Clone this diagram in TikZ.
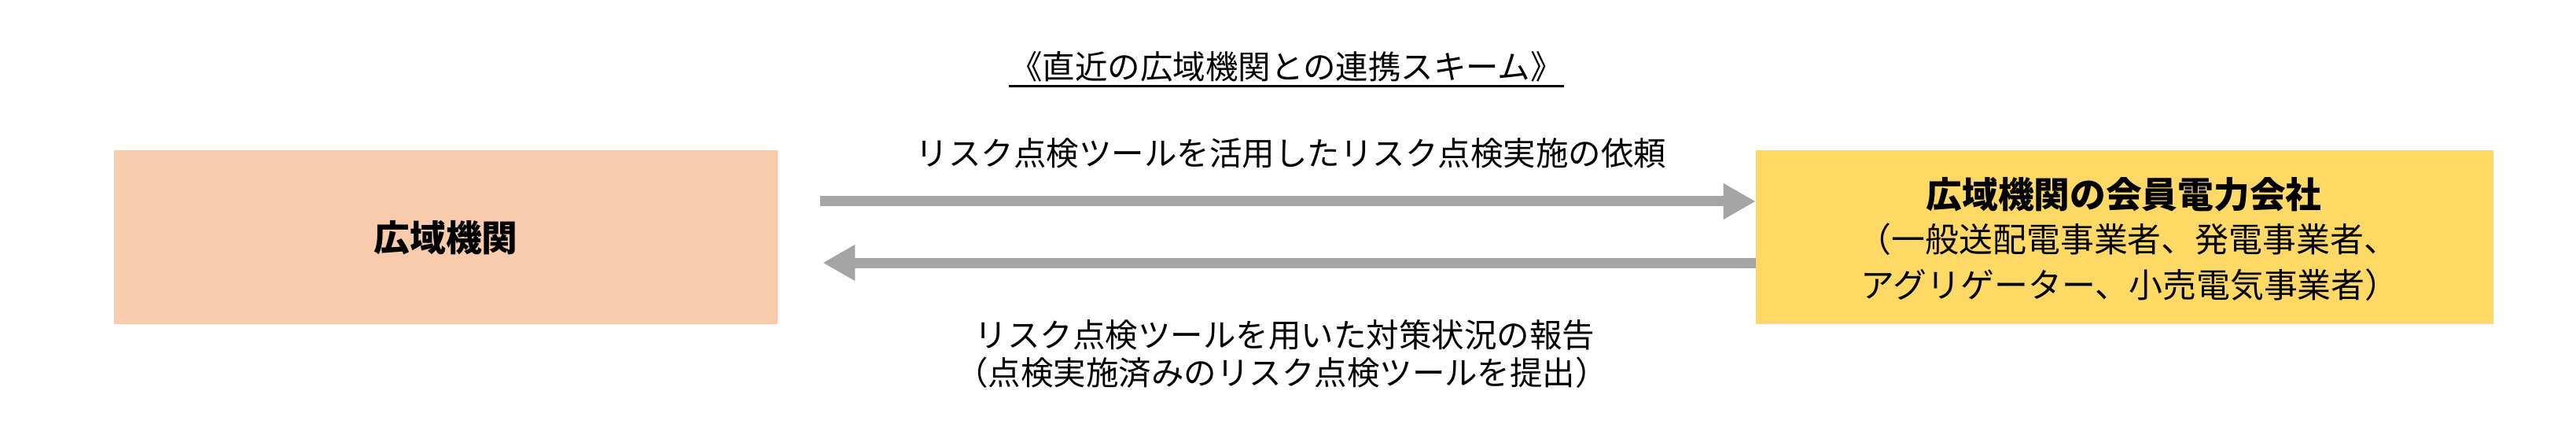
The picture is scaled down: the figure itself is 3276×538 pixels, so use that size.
\documentclass[tikz,border=0pt]{standalone}
\usepackage{fontspec}
\newfontfamily\jp{Noto Sans CJK JP}
\usetikzlibrary{arrows.meta}
\definecolor{peach}{HTML}{F8CBAD}
\definecolor{gold}{HTML}{FFD966}
\definecolor{arrgray}{HTML}{A5A5A5}
\begin{document}
\begin{tikzpicture}[x=0.01cm,y=-0.01cm,
  box/.style={inner sep=0pt, outer sep=0pt, minimum height=2.21cm},
  lbl/.style={inner sep=0pt, font=\jp\fontsize{11.8pt}{14pt}\selectfont},
  boxtxt/.style={inner sep=0pt, font=\jp\fontsize{12.2pt}{14pt}\selectfont},
  boldtxt/.style={inner sep=0pt, font=\jp\bfseries\fontsize{13pt}{15pt}\selectfont},
  arr/.style={draw=arrgray, line width=0.13cm, -{Triangle[length=0.41cm,width=0.43cm]}, arrgray}
]
\useasboundingbox (0,0) rectangle (3276,538);
% title
\node[lbl] (title) at (1636,85) {《直近の広域機関との連携スキーム》};
\draw[line width=0.03cm] ([yshift=-0.04cm]title.south west) -- ([yshift=-0.04cm]title.south east);
% boxes
\node[box, fill=peach, minimum width=8.44cm] (lbox) at (567,301.5) {};
\node[boldtxt] (ltxt) at (567,302) {広域機関};
\node[box, fill=gold, minimum width=9.38cm] (rbox) at (2702,301.5) {};
\node[boldtxt] (r1) at (2701,247) {広域機関の会員電力会社};
\node[boxtxt, anchor=west] (r2) at (2362,304) {（一般送配電事業者、発電事業者、};
\node[boxtxt, anchor=west] (r3) at (2366,362) {アグリゲーター、小売電気事業者）};
% arrows
\draw[arr] ([shift={(0.54cm,0.455cm)}]lbox.east) -- ([yshift=0.455cm]rbox.west);
\draw[arr] ([yshift=-0.325cm]rbox.west) -- ([shift={(0.57cm,-0.325cm)}]lbox.east);
% labels
\node[lbl] (l1) at (1642,195) {リスク点検ツールを活用したリスク点検実施の依頼};
\node[lbl] (l2) at (1634,426) {リスク点検ツールを用いた対策状況の報告};
\node[lbl] (l3) at (1630,474) {（点検実施済みのリスク点検ツールを提出）};
\end{tikzpicture}
\end{document}
